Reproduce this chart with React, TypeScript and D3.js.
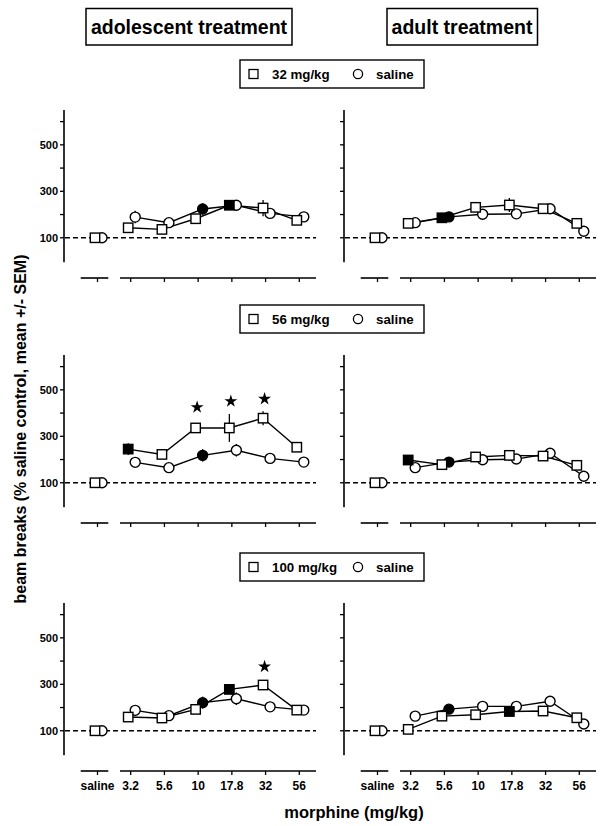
import React from "react";
import * as d3 from "d3";

// ---------- data ----------
const doseLabels = ["3.2", "5.6", "10", "17.8", "32", "56"];
const yTickValues = [100, 200, 300, 400, 500, 600];
const yTickLabels = [100, 300, 500];
const panelTitles = ["adolescent treatment", "adult treatment"];
const pretreatLabels = ["32 mg/kg", "56 mg/kg", "100 mg/kg"];
const salineLabel = "saline";
const salineBaseline = 100;

// row 1: 32 mg/kg pretreatment
const adol32Sq = [143, 136, 182, 240, 228, 175];
const adol32SqFill = [0, 0, 0, 1, 0, 0];
const adol32SqErr = [10, 10, 12, 12, 35, 10];
const adol32Ci = [189, 165, 224, 240, 205, 190];
const adol32CiFill = [0, 0, 1, 0, 0, 0];
const adol32CiErr = [27, 10, 25, 10, 12, 10];
const adult32Sq = [162, 186, 231, 241, 225, 162];
const adult32SqFill = [0, 1, 0, 0, 0, 0];
const adult32SqErr = [10, 10, 12, 30, 12, 10];
const adult32Ci = [165, 190, 201, 203, 225, 128];
const adult32CiFill = [0, 1, 0, 0, 0, 0];
const adult32CiErr = [10, 10, 10, 10, 10, 10];

// row 2: 56 mg/kg pretreatment
const adol56Sq = [245, 222, 336, 336, 378, 253];
const adol56SqFill = [1, 0, 0, 0, 0, 0];
const adol56SqErr = [25, 12, 15, 60, 30, 10];
const adol56Ci = [188, 165, 218, 240, 205, 189];
const adol56CiFill = [0, 0, 1, 0, 0, 0];
const adol56CiErr = [19, 10, 27, 27, 10, 12];
const adult56Sq = [198, 178, 211, 218, 215, 175];
const adult56SqFill = [1, 0, 0, 0, 0, 0];
const adult56SqErr = [10, 10, 10, 23, 10, 10];
const adult56Ci = [165, 189, 199, 202, 227, 128];
const adult56CiFill = [0, 1, 0, 0, 0, 0];
const adult56CiErr = [10, 10, 10, 10, 10, 10];

// row 3: 100 mg/kg pretreatment
const adol100Sq = [159, 155, 192, 278, 297, 189];
const adol100SqFill = [0, 0, 0, 1, 0, 0];
const adol100SqErr = [10, 10, 10, 12, 12, 10];
const adol100Ci = [188, 165, 221, 238, 203, 189];
const adol100CiFill = [0, 0, 1, 0, 0, 0];
const adol100CiErr = [23, 10, 26, 27, 10, 10];
const adult100Sq = [106, 163, 169, 183, 185, 156];
const adult100SqFill = [0, 0, 0, 1, 0, 0];
const adult100SqErr = [10, 10, 10, 10, 10, 10];
const adult100Ci = [163, 193, 205, 205, 227, 129];
const adult100CiFill = [0, 1, 0, 0, 0, 0];
const adult100CiErr = [10, 10, 10, 10, 10, 10];

// significance stars (y position in data units, null = none)
const adol56Stars = [null, null, 425, 451, 461, null];
const adol100Stars = [null, null, null, null, 376, null];

type Series = { v: number[]; f: number[]; e: number[] };
type Panel = { sq: Series; ci: Series; stars: (number | null)[] };

const rows: Panel[][] = [
  [
    { sq: { v: adol32Sq, f: adol32SqFill, e: adol32SqErr }, ci: { v: adol32Ci, f: adol32CiFill, e: adol32CiErr }, stars: [] },
    { sq: { v: adult32Sq, f: adult32SqFill, e: adult32SqErr }, ci: { v: adult32Ci, f: adult32CiFill, e: adult32CiErr }, stars: [] },
  ],
  [
    { sq: { v: adol56Sq, f: adol56SqFill, e: adol56SqErr }, ci: { v: adol56Ci, f: adol56CiFill, e: adol56CiErr }, stars: adol56Stars },
    { sq: { v: adult56Sq, f: adult56SqFill, e: adult56SqErr }, ci: { v: adult56Ci, f: adult56CiFill, e: adult56CiErr }, stars: [] },
  ],
  [
    { sq: { v: adol100Sq, f: adol100SqFill, e: adol100SqErr }, ci: { v: adol100Ci, f: adol100CiFill, e: adol100CiErr }, stars: adol100Stars },
    { sq: { v: adult100Sq, f: adult100SqFill, e: adult100SqErr }, ci: { v: adult100Ci, f: adult100CiFill, e: adult100CiErr }, stars: [] },
  ],
];

// ---------- layout ----------
const W = 604;
const H = 826;
const FONT = "'Liberation Sans', Arial, Helvetica, sans-serif";
const rowTops = [110, 355, 603];
const plotH = 151;
const panelX = [64, 344];
const salineX = 33.5; // relative to axis
const sqOff = -2.5;
const ciOff = 4.5;
const SW = 1.4;

const yScale = d3.scaleLinear().domain([0, 650]).range([plotH, 0]);
const xDose = d3.scalePoint<string>().domain(doseLabels).range([66.7, 235.3]);
const line = d3.line<[number, number]>().x((d) => d[0]).y((d) => d[1]);
const starPath = d3.symbol().type(d3.symbolStar).size(52)() as string;

function Marker({ kind, x, y, filled }: { kind: "sq" | "ci"; x: number; y: number; filled: boolean }) {
  const fill = filled ? "#000" : "#fff";
  if (kind === "sq")
    return <rect x={x - 4.7} y={y - 4.7} width={9.4} height={9.4} fill={fill} stroke="#000" strokeWidth={SW} />;
  return <circle cx={x} cy={y} r={5} fill={fill} stroke="#000" strokeWidth={SW} />;
}

function PanelView({ p, showLabels, showYLabels }: { p: Panel; showLabels: boolean; showYLabels: boolean }) {
  const axisBottom = yScale(0) + 17;
  const ptsSq: [number, number][] = p.sq.v.map((v, i) => [xDose(doseLabels[i])! + sqOff, yScale(v)]);
  const ptsCi: [number, number][] = p.ci.v.map((v, i) => [xDose(doseLabels[i])! + ciOff, yScale(v)]);
  return (
    <g>
      {/* y axis */}
      <line x1={0} x2={0} y1={yScale(650)} y2={yScale(-5)} stroke="#000" strokeWidth={1.6} />
      {yTickValues.map((t) => (
        <line key={t} x1={-4} x2={0} y1={yScale(t)} y2={yScale(t)} stroke="#000" strokeWidth={1.3} />
      ))}
      {showYLabels &&
        yTickLabels.map((t) => (
          <text key={t} x={-6} y={yScale(t)} dy="0.36em" textAnchor="end" fontSize={11} fontWeight="bold" fontFamily={FONT}>
            {t}
          </text>
        ))}
      {/* baseline */}
      <line x1={1} x2={252} y1={yScale(salineBaseline)} y2={yScale(salineBaseline)} stroke="#000" strokeWidth={1.4} strokeDasharray="5,3" />
      {/* x axis segments */}
      <line x1={16.7} x2={44.3} y1={axisBottom} y2={axisBottom} stroke="#000" strokeWidth={1.6} />
      <line x1={salineX} x2={salineX} y1={axisBottom} y2={axisBottom + 4} stroke="#000" strokeWidth={1.3} />
      <line x1={56} x2={252} y1={axisBottom} y2={axisBottom} stroke="#000" strokeWidth={1.6} />
      {doseLabels.map((d) => (
        <line key={d} x1={xDose(d)} x2={xDose(d)} y1={axisBottom} y2={axisBottom + 4} stroke="#000" strokeWidth={1.3} />
      ))}
      {showLabels && (
        <g fontSize={12} fontWeight="bold" fontFamily={FONT} textAnchor="middle">
          <text x={salineX} y={axisBottom + 19}>{salineLabel}</text>
          {doseLabels.map((d) => (
            <text key={d} x={xDose(d)} y={axisBottom + 19}>{d}</text>
          ))}
        </g>
      )}
      {/* error bars */}
      {p.ci.v.map((v, i) => (
        <line key={"ec" + i} x1={ptsCi[i][0]} x2={ptsCi[i][0]} y1={yScale(v - p.ci.e[i])} y2={yScale(v + p.ci.e[i])} stroke="#000" strokeWidth={1.3} />
      ))}
      {p.sq.v.map((v, i) => (
        <line key={"es" + i} x1={ptsSq[i][0]} x2={ptsSq[i][0]} y1={yScale(v - p.sq.e[i])} y2={yScale(v + p.sq.e[i])} stroke="#000" strokeWidth={1.3} />
      ))}
      {/* lines */}
      <path d={line(ptsCi) || ""} fill="none" stroke="#000" strokeWidth={SW} />
      <path d={line(ptsSq) || ""} fill="none" stroke="#000" strokeWidth={SW} />
      {/* saline markers */}
      <Marker kind="ci" x={salineX + ciOff} y={yScale(salineBaseline)} filled={false} />
      <Marker kind="sq" x={salineX + sqOff} y={yScale(salineBaseline)} filled={false} />
      {/* markers */}
      {ptsCi.map((pt, i) => (
        <Marker key={"c" + i} kind="ci" x={pt[0]} y={pt[1]} filled={p.ci.f[i] === 1} />
      ))}
      {ptsSq.map((pt, i) => (
        <Marker key={"s" + i} kind="sq" x={pt[0]} y={pt[1]} filled={p.sq.f[i] === 1} />
      ))}
      {/* stars */}
      {p.stars.map((s, i) =>
        s == null ? null : (
          <path key={"st" + i} d={starPath} transform={`translate(${xDose(doseLabels[i])! - 1},${yScale(s)})`} fill="#000" />
        )
      )}
    </g>
  );
}

function Legend({ y, label }: { y: number; label: string }) {
  return (
    <g fontFamily={FONT} fontWeight="bold" fontSize={13.3}>
      <rect x={240} y={y} width={184} height={28} fill="#fff" stroke="#000" strokeWidth={1.4} />
      <rect x={249} y={y + 9.5} width={9} height={9} fill="#fff" stroke="#000" strokeWidth={1.3} />
      <text x={272} y={y + 14} dy="0.36em">{label}</text>
      <circle cx={358} cy={y + 14} r={4.6} fill="#fff" stroke="#000" strokeWidth={1.3} />
      <text x={376} y={y + 14} dy="0.36em">{salineLabel}</text>
    </g>
  );
}

export default function App() {
  return (
    <svg width={W} height={H} style={{ display: "block", position: "absolute", left: 0, top: 0, background: "#fff" }}>
      {/* titles */}
      <g fontFamily={FONT} fontWeight="bold" fontSize={19.5}>
        <rect x={86} y={8.5} width={206} height={36.5} fill="none" stroke="#000" strokeWidth={1.5} />
        <text x={189} y={34} textAnchor="middle">{panelTitles[0]}</text>
        <rect x={387} y={8.5} width={150.5} height={36.5} fill="none" stroke="#000" strokeWidth={1.5} />
        <text x={462} y={34} textAnchor="middle">{panelTitles[1]}</text>
      </g>
      {rows.map((row, r) => (
        <g key={r}>
          <Legend y={rowTops[r] - 50} label={pretreatLabels[r]} />
          {row.map((p, c) => (
            <g key={c} transform={`translate(${panelX[c]},${rowTops[r]})`}>
              <PanelView p={p} showLabels={r === 2} showYLabels={c === 0} />
            </g>
          ))}
        </g>
      ))}
      <text
        transform="translate(20,429) rotate(-90)"
        textAnchor="middle"
        dy="0.36em"
        fontFamily={FONT}
        fontWeight="bold"
        fontSize={16}
      >
        beam breaks (% saline control, mean +/- SEM)
      </text>
      <text x={354} y={818} textAnchor="middle" fontFamily={FONT} fontWeight="bold" fontSize={16.5}>
        morphine (mg/kg)
      </text>
    </svg>
  );
}
